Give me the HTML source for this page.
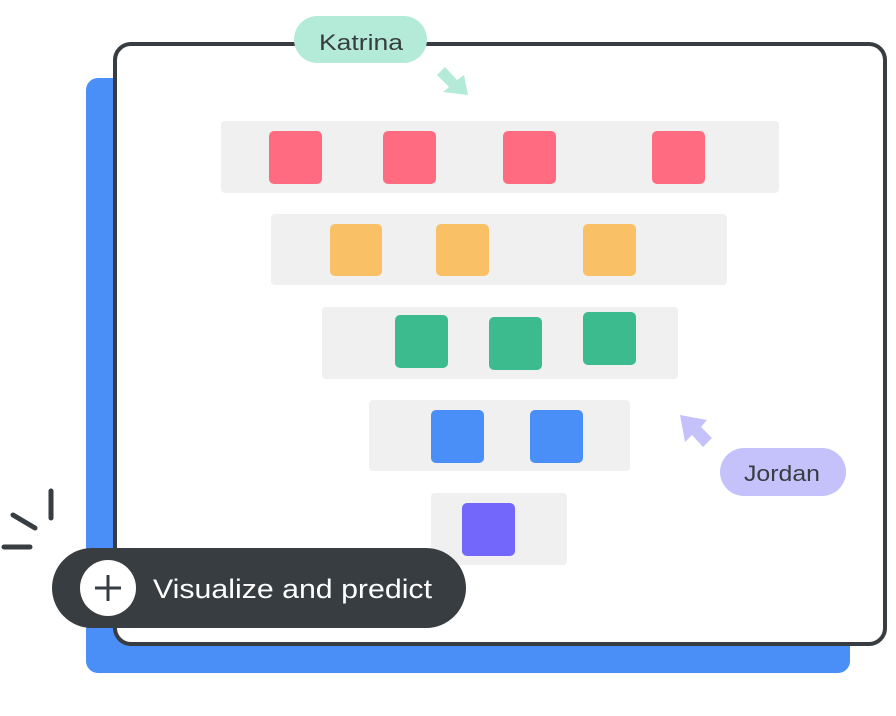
<!DOCTYPE html>
<html><head><meta charset="utf-8"><style>
html,body{margin:0;padding:0;background:#fff;width:896px;height:716px;overflow:hidden}
svg{display:block}
text{font-family:"Liberation Sans",sans-serif}
</style></head><body>
<svg width="896" height="716" viewBox="0 0 896 716" xmlns="http://www.w3.org/2000/svg">
<rect x="86" y="78" width="764" height="595" rx="12" fill="#4a8ff7"/>
<rect x="115" y="44" width="770" height="600" rx="16" fill="#fff" stroke="#373d40" stroke-width="4"/>
<g fill="#f0f0f0">
<rect x="221" y="121" width="558" height="72" rx="4"/>
<rect x="271" y="214" width="456" height="71" rx="4"/>
<rect x="322" y="307" width="356" height="72" rx="4"/>
<rect x="369" y="400" width="261" height="71" rx="4"/>
<rect x="431" y="493" width="136" height="72" rx="4"/>
</g>
<g fill="#ff6b81">
<rect x="269" y="131" width="53" height="53" rx="5"/>
<rect x="383" y="131" width="53" height="53" rx="5"/>
<rect x="503" y="131" width="53" height="53" rx="5"/>
<rect x="652" y="131" width="53" height="53" rx="5"/>
</g>
<g fill="#f9c066">
<rect x="330" y="224" width="52" height="52" rx="5"/>
<rect x="436" y="224" width="53" height="52" rx="5"/>
<rect x="583" y="224" width="53" height="52" rx="5"/>
</g>
<g fill="#3bbb8e">
<rect x="395" y="315" width="53" height="53" rx="5"/>
<rect x="489" y="317" width="53" height="53" rx="5"/>
<rect x="583" y="312" width="53" height="53" rx="5"/>
</g>
<g fill="#4a8ff7">
<rect x="431" y="410" width="53" height="53" rx="5"/>
<rect x="530" y="410" width="53" height="53" rx="5"/>
</g>
<rect x="462" y="503" width="53" height="53" rx="5" fill="#7366fb"/>
<!-- Katrina -->
<rect x="294" y="16" width="133" height="47" rx="23.5" fill="#b3ead8"/>
<text x="319" y="50" font-size="22" fill="#373d40" textLength="84" lengthAdjust="spacingAndGlyphs">Katrina</text>
<polygon points="468,95 464,75 457,80 445,67 437,75 449,87 443,92" fill="#b3ead8"/>
<!-- Jordan -->
<rect x="720" y="448" width="126" height="48" rx="24" fill="#c4c1fb"/>
<text x="744" y="481" font-size="22" fill="#373d40" textLength="76" lengthAdjust="spacingAndGlyphs">Jordan</text>
<polygon points="680,415 685,442 692,435 703,447 712,438 701,427 707,420" fill="#c4c1fb"/>
<!-- sparks -->
<g stroke="#373d40" stroke-width="5" stroke-linecap="round">
<line x1="51" y1="491" x2="51" y2="518"/>
<line x1="13" y1="515" x2="35" y2="528"/>
<line x1="4" y1="547" x2="30" y2="547"/>
</g>
<!-- button -->
<rect x="52" y="548" width="414" height="80" rx="40" fill="#373d40"/>
<circle cx="108" cy="588" r="28" fill="#fff"/>
<g stroke="#373d40" stroke-width="3"><line x1="95" y1="588" x2="121" y2="588"/><line x1="108" y1="575" x2="108" y2="601"/></g>
<text x="153" y="598" font-size="27" fill="#fff" textLength="279" lengthAdjust="spacingAndGlyphs">Visualize and predict</text>
</svg>
</body></html>
